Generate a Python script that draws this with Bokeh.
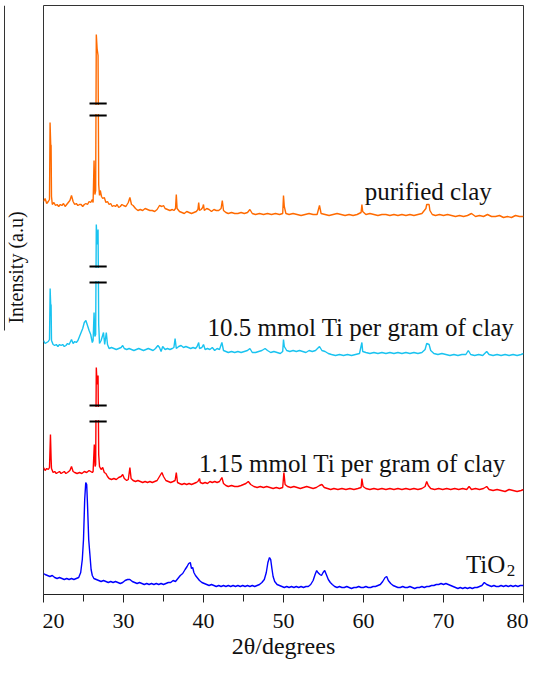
import math
from bokeh.plotting import figure
from bokeh.layouts import row
from bokeh.models import Range1d, FixedTicker, Title
from bokeh.core.properties import value
from bokeh.embed import file_html
from bokeh.resources import INLINE

# ---- data (2theta in degrees, intensity in arbitrary offset units) ----
purified_clay = [
    (20.0, 393), (20.2, 396), (20.4, 391), (20.6, 393), (20.75, 395), (20.82, 472), (20.9, 450), (20.95, 449),
    (21.0, 398), (21.1, 390), (21.3, 392), (21.5, 389), (21.7, 390), (21.9, 388), (22.1, 390), (22.3, 389),
    (22.5, 391), (22.7, 388), (22.9, 390), (23.1, 392), (23.3, 394), (23.5, 399), (23.7, 393), (23.9, 390),
    (24.1, 391), (24.3, 389), (24.5, 390), (24.7, 390), (24.9, 388), (25.1, 390), (25.3, 391), (25.5, 390),
    (25.7, 393), (25.9, 392), (26.1, 395), (26.2, 392), (26.32, 434), (26.42, 400), (26.52, 404), (26.6, 560),
    (26.7, 546), (26.82, 539), (26.9, 410), (27.0, 399), (27.1, 404), (27.25, 398), (27.4, 396), (27.6, 397),
    (27.8, 392), (28.0, 393), (28.2, 390), (28.4, 391), (28.6, 388), (28.8, 389), (29.0, 388), (29.2, 390),
    (29.4, 387), (29.6, 388), (29.8, 390), (30.0, 389), (30.3, 388), (30.6, 392), (30.8, 397), (31.0, 390),
    (31.2, 389), (31.5, 386), (31.8, 384), (32.1, 385), (32.4, 384), (32.7, 386), (33.0, 385), (33.3, 384),
    (33.6, 384), (33.9, 383), (34.2, 385), (34.5, 389), (34.8, 388), (35.0, 389), (35.2, 386), (35.5, 385),
    (35.8, 384), (36.1, 385), (36.3, 384), (36.5, 386), (36.6, 400), (36.7, 386), (37.0, 383), (37.3, 382),
    (37.6, 381), (37.9, 383), (38.2, 382), (38.5, 381), (38.8, 382), (39.1, 383), (39.3, 385), (39.4, 392),
    (39.5, 384), (39.7, 385), (39.9, 387), (40.0, 390), (40.1, 384), (40.4, 386), (40.7, 385), (41.0, 383),
    (41.3, 385), (41.6, 384), (41.9, 384), (42.2, 386), (42.35, 394), (42.5, 384), (42.8, 382), (43.1, 381),
    (43.5, 382), (43.9, 381), (44.3, 381), (44.7, 382), (45.1, 381), (45.5, 382), (45.8, 385), (46.1, 381),
    (46.5, 380), (47.0, 381), (47.5, 380), (48.0, 381), (48.5, 380), (49.0, 381), (49.5, 380), (49.9, 381),
    (50.0, 399), (50.1, 388), (50.3, 381), (50.7, 380), (51.2, 381), (51.7, 380), (52.2, 379), (52.7, 380),
    (53.2, 381), (53.7, 380), (54.2, 380), (54.5, 389), (54.7, 381), (55.2, 380), (55.7, 379), (56.2, 380),
    (56.7, 381), (57.2, 380), (57.7, 379), (58.2, 380), (58.7, 379), (59.2, 380), (59.7, 382), (59.8, 390),
    (59.9, 383), (60.3, 380), (60.8, 381), (61.3, 380), (61.8, 379), (62.3, 380), (62.8, 380), (63.3, 379),
    (63.8, 380), (64.3, 379), (64.8, 380), (65.3, 379), (65.8, 380), (66.3, 379), (66.8, 380), (67.3, 381),
    (67.8, 386), (67.9, 390), (68.2, 390), (68.3, 384), (68.6, 380), (69.0, 379), (69.5, 380), (70.0, 379),
    (70.5, 380), (71.0, 379), (71.5, 378), (72.0, 379), (72.5, 378), (73.0, 379), (73.5, 381), (74.0, 378),
    (74.5, 379), (75.0, 378), (75.5, 380), (76.0, 378), (76.5, 378), (77.0, 379), (77.5, 377), (78.0, 378),
    (78.5, 377), (79.0, 379), (79.5, 378), (80.0, 378),
]

ti_10_5 = [
    (20.0, 254), (20.2, 251), (20.4, 252), (20.6, 253), (20.75, 255), (20.83, 306), (20.9, 289), (20.95, 290),
    (21.0, 254), (21.2, 250), (21.4, 249), (21.6, 250), (21.8, 248), (22.0, 250), (22.2, 249), (22.4, 250),
    (22.6, 248), (22.8, 249), (23.0, 251), (23.2, 250), (23.5, 255), (23.7, 251), (23.9, 253), (24.1, 252),
    (24.3, 254), (24.5, 258), (24.7, 262), (24.9, 266), (25.1, 272), (25.3, 274), (25.5, 269), (25.7, 264),
    (25.9, 260), (26.1, 252), (26.2, 254), (26.32, 282), (26.42, 258), (26.52, 260), (26.6, 370), (26.7, 350),
    (26.82, 365), (26.9, 270), (27.0, 251), (27.2, 254), (27.5, 262), (27.65, 250), (27.85, 262), (28.0, 250),
    (28.2, 246), (28.5, 247), (28.8, 246), (29.1, 245), (29.4, 246), (29.7, 247), (29.9, 249), (30.1, 246),
    (30.4, 245), (30.7, 246), (31.0, 245), (31.3, 244), (31.6, 245), (31.9, 246), (32.2, 245), (32.5, 244),
    (32.8, 245), (33.1, 246), (33.4, 245), (33.7, 244), (34.0, 246), (34.3, 249), (34.5, 247), (34.7, 243),
    (34.9, 248), (35.2, 245), (35.5, 246), (35.8, 245), (36.1, 246), (36.3, 247), (36.45, 256), (36.6, 246),
    (36.9, 248), (37.2, 249), (37.5, 247), (37.8, 248), (38.1, 247), (38.4, 246), (38.7, 247), (39.0, 246),
    (39.2, 248), (39.4, 252), (39.5, 246), (39.8, 247), (40.0, 250), (40.2, 245), (40.5, 246), (40.8, 245),
    (41.1, 247), (41.4, 244), (41.7, 246), (42.0, 245), (42.3, 252), (42.5, 244), (42.8, 243), (43.1, 242),
    (43.5, 243), (43.9, 242), (44.3, 243), (44.7, 242), (45.1, 243), (45.5, 244), (45.8, 246), (46.1, 242),
    (46.5, 242), (46.9, 243), (47.3, 244), (47.7, 246), (48.0, 244), (48.4, 242), (48.8, 243), (49.2, 242),
    (49.6, 241), (49.9, 243), (50.0, 255), (50.1, 248), (50.4, 244), (50.8, 243), (51.2, 244), (51.6, 243),
    (52.0, 244), (52.4, 243), (52.8, 242), (53.2, 244), (53.6, 243), (54.0, 244), (54.5, 248), (54.8, 244),
    (55.2, 243), (55.6, 241), (56.0, 240), (56.5, 239), (57.0, 240), (57.5, 239), (58.0, 240), (58.5, 239),
    (59.0, 240), (59.5, 241), (59.8, 252), (59.9, 243), (60.3, 242), (60.8, 241), (61.3, 242), (61.8, 241),
    (62.3, 242), (62.8, 241), (63.3, 242), (63.8, 241), (64.3, 242), (64.8, 241), (65.3, 242), (65.8, 241),
    (66.3, 242), (66.8, 241), (67.3, 242), (67.7, 245), (67.9, 251), (68.2, 250), (68.4, 244), (68.8, 241),
    (69.3, 240), (69.8, 241), (70.3, 240), (70.8, 239), (71.3, 240), (71.8, 239), (72.3, 240), (72.8, 240),
    (73.1, 244), (73.4, 240), (73.9, 239), (74.4, 240), (74.9, 239), (75.4, 243), (75.7, 240), (76.2, 239),
    (76.7, 240), (77.2, 239), (77.7, 240), (78.2, 239), (78.7, 240), (79.2, 239), (79.7, 240), (80.0, 241),
]

ti_1_15 = [
    (20.0, 127), (20.2, 124), (20.4, 126), (20.6, 125), (20.75, 127), (20.87, 160), (20.95, 136), (21.0, 126),
    (21.2, 122), (21.4, 123), (21.6, 121), (21.8, 122), (22.0, 123), (22.2, 121), (22.4, 122), (22.6, 123),
    (22.8, 121), (23.0, 122), (23.3, 124), (23.5, 128), (23.7, 123), (23.9, 122), (24.2, 121), (24.5, 122),
    (24.8, 121), (25.1, 123), (25.4, 122), (25.7, 124), (25.9, 123), (26.1, 122), (26.2, 123), (26.35, 150),
    (26.45, 128), (26.52, 130), (26.6, 227), (26.7, 210), (26.82, 219), (26.9, 140), (27.0, 128), (27.2, 125),
    (27.4, 127), (27.6, 122), (27.8, 121), (28.0, 118), (28.2, 116), (28.5, 115), (28.8, 116), (29.1, 115),
    (29.4, 117), (29.7, 118), (29.9, 120), (30.1, 116), (30.4, 114), (30.6, 115), (30.8, 127), (30.95, 116),
    (31.2, 114), (31.5, 113), (31.8, 114), (32.1, 113), (32.4, 112), (32.7, 113), (33.0, 112), (33.3, 113),
    (33.6, 112), (33.9, 113), (34.2, 114), (34.5, 118), (34.8, 122), (35.0, 118), (35.3, 114), (35.6, 113),
    (35.9, 112), (36.2, 113), (36.45, 114), (36.6, 122), (36.75, 112), (37.0, 111), (37.3, 110), (37.6, 111),
    (37.9, 110), (38.2, 111), (38.5, 110), (38.8, 111), (39.1, 112), (39.3, 113), (39.5, 116), (39.6, 112),
    (39.9, 111), (40.2, 112), (40.5, 111), (40.8, 113), (41.1, 112), (41.4, 113), (41.7, 112), (42.0, 113),
    (42.3, 117), (42.5, 111), (42.8, 109), (43.1, 108), (43.5, 109), (43.9, 108), (44.3, 108), (44.7, 109),
    (45.0, 110), (45.3, 111), (45.6, 113), (45.9, 110), (46.3, 108), (46.7, 107), (47.1, 108), (47.5, 107),
    (47.9, 108), (48.3, 107), (48.7, 106), (49.1, 107), (49.5, 106), (49.9, 107), (50.05, 122), (50.2, 110),
    (50.5, 108), (50.9, 107), (51.3, 108), (51.7, 107), (52.1, 106), (52.5, 107), (52.9, 108), (53.3, 107),
    (53.7, 106), (54.1, 107), (54.5, 109), (54.8, 110), (55.1, 107), (55.5, 106), (55.9, 105), (56.3, 106),
    (56.8, 105), (57.3, 106), (57.8, 105), (58.3, 106), (58.8, 105), (59.3, 106), (59.7, 107), (59.8, 116),
    (59.95, 108), (60.3, 106), (60.8, 105), (61.3, 106), (61.8, 105), (62.3, 106), (62.8, 105), (63.3, 106),
    (63.8, 105), (64.3, 106), (64.8, 105), (65.3, 106), (65.8, 105), (66.3, 106), (66.8, 105), (67.3, 106),
    (67.7, 108), (67.9, 113), (68.1, 109), (68.4, 106), (68.9, 105), (69.4, 106), (69.9, 105), (70.4, 106),
    (70.9, 105), (71.4, 106), (71.9, 105), (72.4, 106), (72.9, 105), (73.2, 108), (73.5, 105), (74.0, 106),
    (74.5, 105), (75.0, 106), (75.4, 108), (75.7, 105), (76.2, 104), (76.7, 105), (77.2, 104), (77.7, 103),
    (78.2, 105), (78.7, 104), (79.2, 103), (79.7, 104), (80.0, 105),
]

tio2 = [
    (20.0, 21), (20.2, 20), (20.5, 19), (20.8, 18), (21.1, 19), (21.4, 17), (21.7, 16), (22.0, 17),
    (22.3, 16), (22.6, 15), (22.9, 16), (23.2, 15), (23.5, 16), (23.8, 15), (24.1, 16), (24.4, 17),
    (24.65, 22), (24.85, 35), (25.0, 55), (25.15, 95), (25.28, 112), (25.4, 110), (25.5, 90), (25.65, 55),
    (25.8, 40), (25.95, 25), (26.1, 19), (26.3, 16), (26.6, 15), (26.9, 14), (27.2, 13), (27.5, 14),
    (27.8, 13), (28.1, 12), (28.4, 13), (28.7, 12), (29.0, 13), (29.3, 12), (29.6, 11), (29.9, 12),
    (30.2, 14), (30.5, 15), (30.8, 15), (31.1, 13), (31.4, 12), (31.7, 11), (32.0, 12), (32.3, 11),
    (32.6, 10), (32.9, 11), (33.2, 10), (33.5, 11), (33.8, 10), (34.1, 11), (34.4, 10), (34.7, 11),
    (35.0, 10), (35.3, 11), (35.6, 12), (35.9, 12), (36.2, 14), (36.5, 13), (36.8, 16), (37.1, 19),
    (37.4, 21), (37.7, 25), (37.95, 28), (38.15, 31), (38.35, 32), (38.5, 26), (38.65, 27), (38.8, 22),
    (39.0, 19), (39.2, 17), (39.5, 14), (39.8, 12), (40.1, 11), (40.4, 10), (40.7, 9), (41.0, 10),
    (41.3, 9), (41.6, 8), (41.9, 9), (42.2, 8), (42.5, 9), (42.8, 8), (43.1, 9), (43.4, 8),
    (43.7, 9), (44.0, 8), (44.3, 9), (44.6, 8), (44.9, 9), (45.2, 8), (45.5, 9), (45.8, 8),
    (46.1, 9), (46.4, 8), (46.7, 9), (47.0, 10), (47.3, 12), (47.6, 15), (47.85, 22), (48.05, 32),
    (48.25, 37), (48.4, 35), (48.55, 26), (48.7, 18), (48.9, 13), (49.2, 10), (49.5, 9), (49.8, 8),
    (50.1, 7), (50.4, 8), (50.7, 7), (51.0, 8), (51.3, 7), (51.6, 8), (51.9, 7), (52.2, 8),
    (52.5, 7), (52.8, 8), (53.1, 8), (53.4, 10), (53.7, 14), (53.95, 20), (54.15, 24), (54.3, 22),
    (54.55, 20), (54.75, 19), (54.95, 22), (55.15, 24), (55.35, 20), (55.6, 15), (55.85, 12), (56.1, 10),
    (56.4, 8), (56.7, 7), (57.0, 8), (57.3, 7), (57.6, 7), (57.9, 8), (58.2, 7), (58.5, 6),
    (58.8, 7), (59.1, 7), (59.4, 8), (59.7, 7), (60.0, 7), (60.3, 8), (60.6, 7), (60.9, 7),
    (61.2, 8), (61.5, 8), (61.8, 9), (62.1, 10), (62.4, 13), (62.7, 17), (62.9, 18), (63.1, 14),
    (63.4, 11), (63.7, 9), (64.0, 8), (64.3, 7), (64.6, 7), (64.9, 8), (65.2, 7), (65.5, 7),
    (65.8, 8), (66.1, 7), (66.4, 6), (66.7, 7), (67.0, 7), (67.3, 8), (67.6, 7), (67.9, 8),
    (68.2, 8), (68.5, 9), (68.8, 9), (69.1, 10), (69.4, 10), (69.7, 11), (70.0, 10), (70.3, 11),
    (70.6, 10), (70.9, 9), (71.2, 8), (71.5, 7), (71.8, 6), (72.1, 7), (72.4, 6), (72.7, 7),
    (73.0, 6), (73.3, 7), (73.6, 6), (73.9, 7), (74.2, 7), (74.5, 8), (74.8, 9), (75.1, 12),
    (75.4, 10), (75.7, 9), (76.0, 8), (76.3, 9), (76.6, 8), (76.9, 8), (77.2, 9), (77.5, 8),
    (77.8, 9), (78.1, 8), (78.4, 9), (78.7, 8), (79.0, 9), (79.3, 8), (79.6, 9), (80.0, 9),
]

series_names = ["purified clay", "10.5 mmol Ti per gram of clay", "1.15 mmol Ti per gram of clay", "TiO"]
break_low = [479, 312, 173]
break_high = [491, 328, 189]
x_ticks = [20, 30, 40, 50, 60, 70, 80]
x_minor_ticks = [25, 35, 45, 55, 65, 75]

SERIF = "Liberation Serif"
INK = "#111111"

# ---- left strip: y-axis title and the rule beside it (y in pixels from page top) ----
side = figure(width=42, height=665, x_range=Range1d(0, 42), y_range=Range1d(602, 13),
              x_axis_location=None, y_axis_location=None, min_border=0,
              output_backend="svg", toolbar_location=None)
side.outline_line_color = None
side.grid.visible = False
side.segment(x0=[4], x1=[4], y0=[13], y1=[338], line_color="#333333", line_width=1)
side.text(x=[15], y=[275], text=["Intensity (a.u)"], angle=math.pi / 2,
          text_font=value(SERIF), text_font_size="20px", text_color=INK,
          text_align="center", text_baseline="middle")

# ---- main chart ----
p = figure(width=486, height=665, x_range=Range1d(20, 80), y_range=Range1d(0, 589),
           y_axis_location=None, output_backend="svg", toolbar_location=None,
           min_border_left=1, min_border_right=5, min_border_top=5, min_border_bottom=71)
p.grid.visible = False
p.outline_line_color = "#333333"
p.outline_line_width = 1

p.xaxis.ticker = FixedTicker(ticks=x_ticks, minor_ticks=x_minor_ticks)
p.xaxis.major_tick_in = 0
p.xaxis.major_tick_out = 8
p.xaxis.minor_tick_in = 0
p.xaxis.minor_tick_out = 7
p.xaxis.axis_line_color = "#222222"
p.xaxis.major_tick_line_color = "#222222"
p.xaxis.minor_tick_line_color = "#222222"
p.xaxis.major_label_text_font = SERIF
p.xaxis.major_label_text_font_size = "22px"
p.xaxis.major_label_text_color = INK
p.xaxis.major_label_standoff = 11

p.add_layout(Title(text="2θ/degrees", align="center", offset=-21, standoff=1,
                   text_font=SERIF, text_font_size="24px", text_font_style="normal",
                   text_color=INK), "below")

colors = ["#FF6A00", "#19C3F0", "#FF0000", "#0000FF"]
for data, col in zip([purified_clay, ti_10_5, ti_1_15, tio2], colors):
    xs, ys = zip(*data)
    p.line(list(xs), list(ys), line_color=col, line_width=1.4)

# axis-break marks on the strongest clay reflection
n = len(break_low)
p.quad(left=[26.35] * n, right=[27.05] * n, bottom=[b + 1.5 for b in break_low],
       top=[t - 1.5 for t in break_high], fill_color="white", line_color=None)
p.segment(x0=[25.75] * n, x1=[27.9] * n, y0=break_low, y1=break_low, line_color="black", line_width=2)
p.segment(x0=[25.75] * n, x1=[27.9] * n, y0=break_high, y1=break_high, line_color="black", line_width=2)

# curve labels
p.text(x=[60.15, 40.5, 39.45, 72.8], y=[403, 267, 131, 30], text=series_names,
       text_font=value(SERIF), text_font_size="25px", text_color=INK,
       text_align="left", text_baseline="alphabetic")
p.text(x=[77.9], y=[24], text=["2"], text_font=value(SERIF), text_font_size="17px",
       text_color=INK, text_align="left", text_baseline="alphabetic")

layout = row(side, p)
open("out.html", "w").write(file_html(layout, INLINE))
